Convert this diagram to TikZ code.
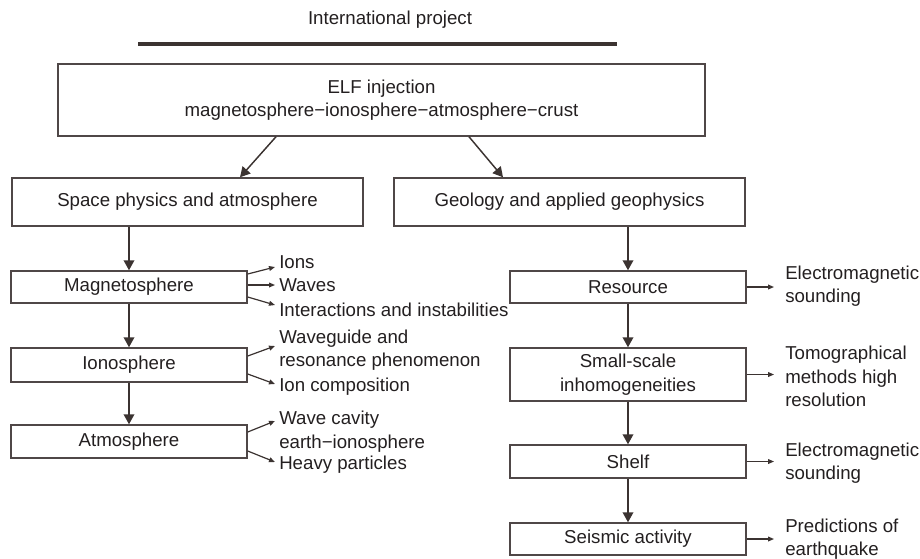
\documentclass[tikz,border=0pt]{standalone}
\usepackage{fontspec}
\setmainfont{Liberation Sans}
\usetikzlibrary{arrows.meta,calc}
\definecolor{boxc}{HTML}{4F4747}
\definecolor{arrc}{HTML}{3B3331}
\definecolor{txtc}{HTML}{231F20}
\newcommand\pxx{0.75pt}
\begin{document}
\begin{tikzpicture}[x=0.75pt,y=-0.75pt,
  font=\fontsize{14pt}{17.5pt}\selectfont, text=txtc,
  bx/.style={draw=boxc, line width=1.1pt, inner sep=0pt, align=center},
  colbox/.style={bx, minimum width=236*\pxx},
  lbl/.style={anchor=west, inner sep=0pt, align=left},
  varr/.style={draw=arrc, line width=1.1pt, -{Triangle[length=7.5pt,width=8pt]}},
  sarr/.style={draw=arrc, line width=0.9pt, -{Triangle[length=4.5pt,width=3.6pt]}}]
\useasboundingbox (0,0) rectangle (920,558);

% title
\node (title) at (390,20) {International project};
\coordinate (ul) at (138,44);
\coordinate (ur) at (617,44);
\draw[arrc, line width=3pt] (ul) -- (ur);

% top box
\node[bx, minimum width=647*\pxx, minimum height=72*\pxx] (top) at (381.5,100)
  {ELF injection\\magnetosphere−ionosphere−atmosphere−crust};

% second row
\node[bx, minimum width=351*\pxx, minimum height=48*\pxx] (space) at (187.5,202)
  {Space physics and atmosphere};
\node[bx, minimum width=351*\pxx, minimum height=48*\pxx] (geo) at (569.5,202)
  {Geology and applied geophysics};

\draw[varr] ($(top.south)+(-105.5,0)$) -- ($(space.north)+(52.5,0)$);
\draw[varr] ($(top.south)+(87.5,0)$) -- ($(geo.north)+(-66.5,0)$);

% left column
\node[colbox, minimum height=32*\pxx] (mag) at (129,287) {Magnetosphere};
\node[colbox, minimum height=34*\pxx] (ion) at (129,365) {Ionosphere};
\node[colbox, minimum height=33*\pxx] (atm) at (129,441.5) {Atmosphere};

\draw[varr] (space.south -| mag.north) -- (mag.north);
\draw[varr] (mag.south) -- (ion.north);
\draw[varr] (ion.south) -- (atm.north);

% left labels
\node[lbl] (ions) at (279,262) {Ions};
\node[lbl] (waves) at (279,285) {Waves};
\node[lbl] (inter) at (279,310) {Interactions and instabilities};
\node[lbl] (wg) at (279,350) {Waveguide and\\resonance phenomenon};
\node[lbl] (ionc) at (279,387) {Ion composition};
\node[lbl] (wc) at (279,431.5) {Wave cavity\\earth−ionosphere};
\node[lbl] (heavy) at (279,465) {Heavy particles};

\draw[sarr] ($(mag.east)+(0,-13)$) -- ($(ions.west)+(-4,5)$);
\draw[sarr] (mag.east |- waves.west) -- ($(waves.west)+(-4,0)$);
\draw[sarr] ($(mag.east)+(0,10)$) -- ($(inter.west)+(-4,-5)$);
\draw[sarr] ($(ion.east)+(0,-9)$) -- ($(wg.west)+(-4,-4)$);
\draw[sarr] ($(ion.east)+(0,9)$) -- ($(ionc.west)+(-4,-3)$);
\draw[sarr] ($(atm.east)+(0,-9.5)$) -- ($(wc.west)+(-4,-10.5)$);
\draw[sarr] ($(atm.east)+(0,9.5)$) -- ($(heavy.west)+(-4,-3)$);

% right column
\node[colbox, minimum height=32*\pxx] (res) at (628,287) {Resource};
\node[colbox, minimum height=53*\pxx] (small) at (628,374.5) {Small-scale\\inhomogeneities};
\node[colbox, minimum height=33*\pxx] (shelf) at (628,461.5) {Shelf};
\node[colbox, minimum height=32*\pxx] (seis) at (628,539) {Seismic activity};

\draw[varr] (geo.south -| res.north) -- (res.north);
\draw[varr] (res.south) -- (small.north);
\draw[varr] (small.south) -- (shelf.north);
\draw[varr] (shelf.south) -- (seis.north);

% right labels
\node[lbl] (em1) at (785,286) {Electromagnetic\\sounding};
\node[lbl] (tomo) at (785,376.5) {Tomographical\\methods high\\resolution};
\node[lbl] (em2) at (785,463) {Electromagnetic\\sounding};
\node[lbl] (pred) at (785,539) {Predictions of\\earthquake};

\draw[sarr] (res.east) -- ($(res.east -| em1.west)+(-11,0)$);
\draw[sarr] (small.east) -- ($(small.east -| tomo.west)+(-11,0)$);
\draw[sarr] (shelf.east) -- ($(shelf.east -| em2.west)+(-11,0)$);
\draw[sarr] (seis.east) -- ($(seis.east -| pred.west)+(-11,0)$);
\end{tikzpicture}
\end{document}
